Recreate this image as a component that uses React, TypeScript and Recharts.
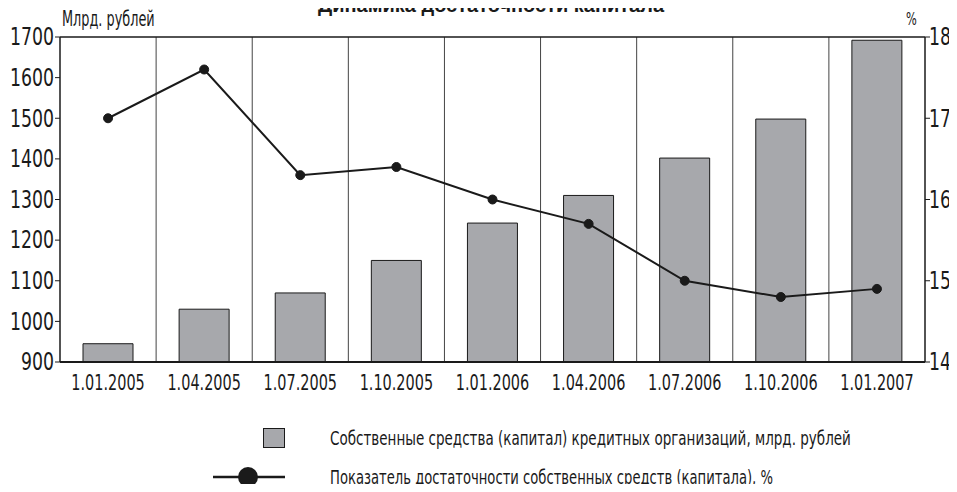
import React from 'react';
import {
  ComposedChart,
  Bar,
  Line,
  XAxis,
  YAxis,
  ReferenceLine,
} from 'recharts';

const dates = [
  '1.01.2005', '1.04.2005', '1.07.2005', '1.10.2005', '1.01.2006',
  '1.04.2006', '1.07.2006', '1.10.2006', '1.01.2007',
];
const capital = [945, 1030, 1070, 1150, 1242, 1310, 1402, 1498, 1692];
const adequacy = [17.0, 17.6, 16.3, 16.4, 16.0, 15.7, 15.0, 14.8, 14.9];
const leftTicks = [900, 1000, 1100, 1200, 1300, 1400, 1500, 1600, 1700];
const rightTicks = [14, 15, 16, 17, 18];
const boundaries = [1, 2, 3, 4, 5, 6, 7, 8];

const data = dates.map((d, i) => ({ date: d, capital: capital[i], adequacy: adequacy[i], idx: i + 0.5 }));

const FONT = '"DejaVu Sans Condensed", "DejaVu Sans", sans-serif';
const INK = '#1a1a1a';
const BAR = '#a7a8ac';

// condensed text: squeeze horizontally around the anchor point
const Narrow = ({ x, y, payload, anchor, dx = 0, dy = 0, size = 21, sx = 0.72 }: any) => (
  <g transform={`translate(${x + dx},${y + dy}) scale(${sx},1)`}>
    <text x={0} y={0} textAnchor={anchor} fill={INK} fontSize={size} fontFamily={FONT} dominantBaseline="central">
      {payload.value}
    </text>
  </g>
);

const squeeze = (s: number): React.CSSProperties => ({ transform: `scaleX(${s})`, transformOrigin: '0 0', whiteSpace: 'nowrap' });

export default function App() {
  return (
    <div style={{ position: 'relative', width: 957, height: 492, margin: -8, overflow: 'hidden', background: '#fff', fontFamily: FONT, color: INK }}>
      {/* title is cropped at the top edge in the original scan */}
      <div style={{ position: 'absolute', top: -4, left: 0, width: 982, textAlign: 'center', fontWeight: 'bold', fontSize: 20, fontFamily: '"Liberation Sans", Arial, sans-serif', whiteSpace: 'nowrap', lineHeight: '19px' }}>
        Динамика достаточности капитала
      </div>
      <div style={{ position: 'absolute', top: 7, left: 62, fontSize: 21, ...squeeze(0.68) }}>Млрд. рублей</div>
      <div style={{ position: 'absolute', top: 8, left: 906, fontSize: 18, ...squeeze(0.7) }}>%</div>

      <ComposedChart width={957} height={492} data={data} margin={{ top: 37, right: 0, bottom: 90, left: 0 }}>
        <XAxis
          dataKey="date"
          xAxisId="cat"
          height={40}
          tickLine={false}
          axisLine={{ stroke: INK, strokeWidth: 2 }}
          tick={<Narrow anchor="middle" dy={13} size={22} sx={0.73} />}
          interval={0}
        />
        <XAxis xAxisId="grid" type="number" dataKey="idx" domain={[0, 9]} hide />
        <YAxis
          yAxisId="left"
          width={60}
          domain={[900, 1700]}
          ticks={leftTicks}
          allowDataOverflow
          tickSize={5}
          tickLine={{ stroke: INK }}
          axisLine={{ stroke: INK, strokeWidth: 1.5 }}
          tick={<Narrow anchor="end" dx={1} size={24} sx={0.8} />}
        />
        <YAxis
          yAxisId="right"
          orientation="right"
          width={32}
          domain={[14, 18]}
          ticks={rightTicks}
          tickSize={5}
          tickLine={{ stroke: INK }}
          axisLine={{ stroke: INK, strokeWidth: 1.5 }}
          tick={<Narrow anchor="start" dx={-3} size={24} sx={0.8} />}
        />
        {boundaries.map((b) => (
          <ReferenceLine key={b} xAxisId="grid" yAxisId="left" x={b} stroke="#444" strokeWidth={1} />
        ))}
        <ReferenceLine xAxisId="cat" yAxisId="left" y={1700} stroke={INK} strokeWidth={1.5} />
        <Bar
          xAxisId="cat"
          yAxisId="left"
          dataKey="capital"
          barSize={50}
          fill={BAR}
          stroke={INK}
          strokeWidth={1}
          isAnimationActive={false}
        />
        <Line
          xAxisId="cat"
          yAxisId="right"
          dataKey="adequacy"
          type="linear"
          stroke={INK}
          strokeWidth={2}
          dot={{ r: 4.5, fill: INK, stroke: INK, strokeWidth: 1 }}
          activeDot={false}
          isAnimationActive={false}
        />
      </ComposedChart>

      <div style={{ position: 'absolute', top: 428, left: 263, width: 22, height: 20, background: BAR, border: `1px solid ${INK}`, boxSizing: 'border-box' }} />
      <div style={{ position: 'absolute', top: 427, left: 330, fontSize: 19, ...squeeze(0.79) }}>
        Собственные средства (капитал) кредитных организаций, млрд. рублей
      </div>
      <svg style={{ position: 'absolute', top: 465, left: 210 }} width={80} height={24}>
        <line x1={3} y1={12} x2={75} y2={12} stroke={INK} strokeWidth={2.5} />
        <circle cx={38} cy={12} r={10} fill={INK} />
      </svg>
      <div style={{ position: 'absolute', top: 466, left: 330, fontSize: 19, ...squeeze(0.77) }}>
        Показатель достаточности собственных средств (капитала), %
      </div>
    </div>
  );
}
